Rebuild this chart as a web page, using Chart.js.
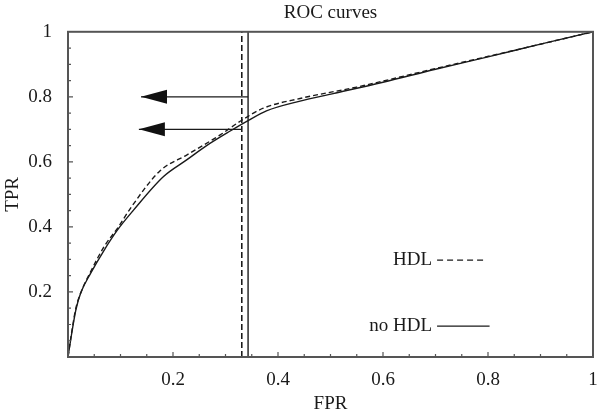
<!DOCTYPE html>
<html>
<head>
<meta charset="utf-8">
<script src="https://cdn.jsdelivr.net/npm/chart.js@4/dist/chart.umd.min.js"></script>
<style>
  html, body { margin: 0; padding: 0; background: #fff; }
  #wrap { width: 601px; height: 415px; }
</style>
</head>
<body>
<div id="wrap"><canvas id="roc"></canvas></div>
<script>
// ROC curve points
const fprNoHdl = [0, 0.005, 0.015, 0.024, 0.043, 0.069, 0.094, 0.124, 0.182, 0.226, 0.264, 0.309, 0.343, 0.378, 0.442, 0.505, 0.6, 0.7, 0.8, 0.9, 1];
const tprNoHdl = [0, 0.052, 0.145, 0.196, 0.257, 0.329, 0.39, 0.45, 0.555, 0.606, 0.65, 0.695, 0.727, 0.757, 0.787, 0.81, 0.845, 0.885, 0.923, 0.962, 1];
const fprHdl = [0, 0.005, 0.015, 0.025, 0.043, 0.069, 0.096, 0.118, 0.175, 0.226, 0.29, 0.331, 0.372, 0.442, 0.55, 0.7, 0.85, 1];
const tprHdl = [0, 0.055, 0.15, 0.2, 0.262, 0.34, 0.4, 0.455, 0.572, 0.621, 0.683, 0.728, 0.765, 0.795, 0.83, 0.887, 0.943, 1];

// cut-off lines and arrows (HDL, no HDL)
const cutoffFpr = [0.331, 0.343];
const arrowTpr = [0.7, 0.8];
const arrowTipFpr = [0.135, 0.139];

const legendLabels = ['HDL', 'no HDL'];
const tickLabels = ['0.2', '0.4', '0.6', '0.8', '1'];

const ink = '#1a1a1a';
const frame = '#555';
const serif = 'Liberation Serif, Times New Roman, serif';

function pts(xs, ys) {
  return xs.map((x, i) => ({ x: x, y: ys[i] }));
}

const datasets = [
  {
    label: legendLabels[0],
    data: pts(fprHdl, tprHdl),
    borderColor: ink, borderWidth: 1.4, borderDash: [5, 3],
    cubicInterpolationMode: 'monotone', pointRadius: 0
  },
  {
    label: legendLabels[1],
    data: pts(fprNoHdl, tprNoHdl),
    borderColor: ink, borderWidth: 1.4,
    cubicInterpolationMode: 'monotone', pointRadius: 0
  },
  {
    label: 'cutoff HDL',
    data: pts([cutoffFpr[0], cutoffFpr[0]], [0, 1]),
    borderColor: ink, borderWidth: 1.6, borderDash: [6, 3], pointRadius: 0
  },
  {
    label: 'cutoff no HDL',
    data: pts([cutoffFpr[1], cutoffFpr[1]], [0, 1]),
    borderColor: ink, borderWidth: 1.4, pointRadius: 0
  },
  {
    label: 'arrow HDL',
    data: pts([cutoffFpr[0], arrowTipFpr[0]], [arrowTpr[0], arrowTpr[0]]),
    borderColor: ink, borderWidth: 1.2, pointRadius: 0
  },
  {
    label: 'arrow no HDL',
    data: pts([cutoffFpr[1], arrowTipFpr[1]], [arrowTpr[1], arrowTpr[1]]),
    borderColor: ink, borderWidth: 1.2, pointRadius: 0
  }
];

// frame, inward ticks, arrow heads and the in-plot legend
const extras = {
  id: 'extras',
  afterDatasetsDraw(chart) {
    const { ctx, chartArea: a, scales: { x, y } } = chart;
    ctx.save();

    // arrow heads
    ctx.fillStyle = '#111';
    for (let i = 0; i < arrowTpr.length; i++) {
      const tx = x.getPixelForValue(arrowTipFpr[i]);
      const ty = y.getPixelForValue(arrowTpr[i]);
      ctx.beginPath();
      ctx.moveTo(tx, ty);
      ctx.lineTo(tx + 26, ty - 7);
      ctx.lineTo(tx + 26, ty + 7);
      ctx.closePath();
      ctx.fill();
    }

    // ticks every 0.05, pointing inwards
    ctx.strokeStyle = frame;
    ctx.lineWidth = 1.2;
    for (let k = 1; k < 20; k++) {
      const v = k / 20;
      const len = k % 4 === 0 ? 5 : 3;
      const px = x.getPixelForValue(v);
      const py = y.getPixelForValue(v);
      ctx.beginPath();
      ctx.moveTo(px, a.bottom);
      ctx.lineTo(px, a.bottom - len);
      ctx.moveTo(a.left, py);
      ctx.lineTo(a.left + len, py);
      ctx.stroke();
    }

    // frame
    ctx.lineWidth = 2;
    ctx.strokeRect(a.left, a.top, a.right - a.left, a.bottom - a.top);

    // legend
    ctx.font = '19px ' + serif;
    ctx.fillStyle = ink;
    ctx.textAlign = 'right';
    ctx.textBaseline = 'middle';
    ctx.strokeStyle = ink;
    ctx.lineWidth = 1.4;
    const lx = x.getPixelForValue(0.703);
    const rows = [
      { y: y.getPixelForValue(0.298), end: x.getPixelForValue(0.792), dash: [6, 4] },
      { y: y.getPixelForValue(0.095), end: x.getPixelForValue(0.803), dash: [] }
    ];
    rows.forEach((r, i) => {
      ctx.fillText(legendLabels[i], lx - 5, r.y);
      ctx.setLineDash(r.dash);
      ctx.beginPath();
      ctx.moveTo(lx, r.y);
      ctx.lineTo(r.end, r.y);
      ctx.stroke();
    });
    ctx.restore();
  }
};

new Chart(document.getElementById('roc'), {
  type: 'line',
  data: { datasets: datasets },
  options: {
    responsive: true,
    maintainAspectRatio: false,
    animation: false,
    layout: { padding: { left: 0, right: 8, top: 0, bottom: 0 } },
    plugins: {
      legend: { display: false },
      tooltip: { enabled: false },
      title: {
        display: true,
        text: 'ROC curves',
        fullSize: false,
        color: ink,
        font: { family: serif, size: 19, weight: 'normal' },
        padding: { top: 2, bottom: 7 }
      }
    },
    scales: {
      x: {
        type: 'linear', min: 0, max: 1,
        grid: { display: false },
        border: { display: false },
        ticks: {
          stepSize: 0.2, padding: 4, color: ink, maxRotation: 0,
          font: { family: serif, size: 19 },
          callback: v => tickLabels[Math.round(v * 5) - 1] || ''
        },
        title: { display: true, text: 'FPR', color: ink, font: { family: serif, size: 19 }, padding: 0 },
        afterFit: s => { s.height = 58; s.paddingRight = 0; s.paddingLeft = 0; }
      },
      y: {
        type: 'linear', min: 0, max: 1,
        grid: { display: false },
        border: { display: false },
        ticks: {
          stepSize: 0.2, padding: 8, color: ink,
          font: { family: serif, size: 19 },
          callback: v => tickLabels[Math.round(v * 5) - 1] || ''
        },
        title: { display: true, text: 'TPR', color: ink, font: { family: serif, size: 19 }, padding: { top: 2, bottom: 0 } },
        afterFit: s => { s.width = 68; s.paddingTop = 0; s.paddingBottom = 0; }
      }
    }
  },
  plugins: [extras]
});
</script>
</body>
</html>
